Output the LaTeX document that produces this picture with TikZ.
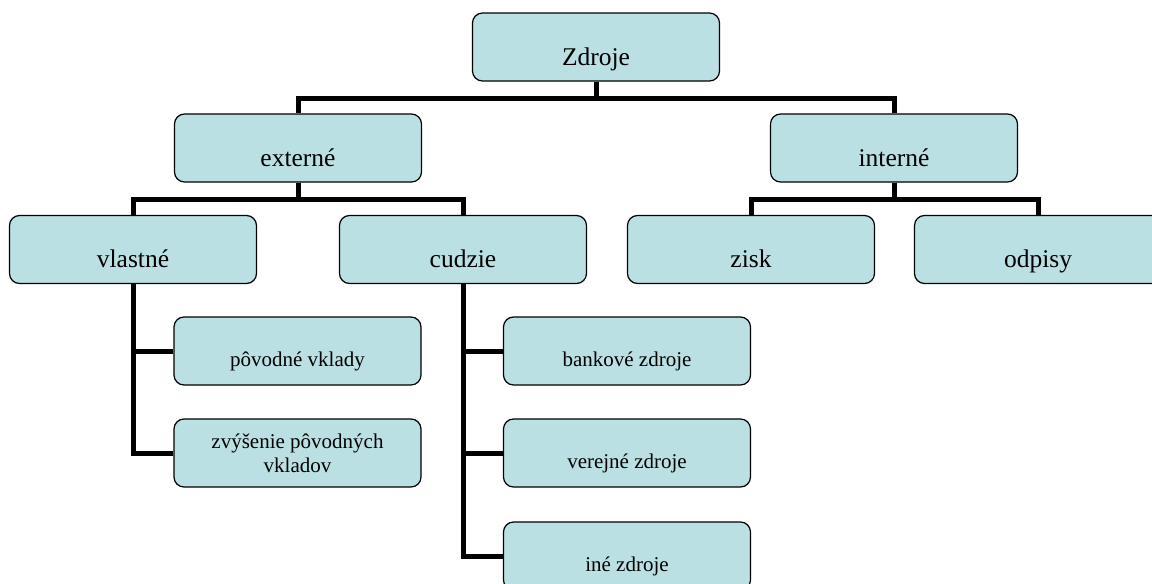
\documentclass[tikz,border=0pt]{standalone}
\usepackage{fontspec}
\setmainfont{Liberation Serif}
\definecolor{boxfill}{RGB}{187,224,227}

\begin{document}
\begin{tikzpicture}[x=1pt,y=-1pt,
box/.style={draw,fill=boxfill,line width=1.2pt,rounded corners=10pt,
minimum width=247pt,minimum height=68pt,inner sep=2pt},
big/.style={box,font=\fontsize{25.5}{30}\selectfont,
text height=40pt,text depth=4pt},
small/.style={box,font=\fontsize{21}{24}\selectfont,
text height=34pt,text depth=4pt},
conn/.style={line width=5pt}]

\useasboundingbox (0,0) rectangle (1152,584);
\clip (0,0) rectangle (1152,584);

% Zdroje
\node[big]
(Z)
at (596,47)
{Zdroje};

% externe / interne
\node[big] (Ext) at (298,148) {externé};
\node[big] (Int) at (894,148) {interné};

% druha uroven
\node[big] (Vl) at (133,249.5) {vlastné};
\node[big] (Cu) at (463,249.5) {cudzie};
\node[big] (Zi) at (751,249.5) {zisk};
\node[big] (Od) at (1038,249.5) {odpisy};

% vlastne zdroje
\node[small] (Pv) at (297.5,351) {pôvodné vklady};
\node[box,font=\fontsize{21}{24}\selectfont,align=center]
(Zv)
at (297.5,453)
{zvýšenie pôvodných\\vkladov};

% cudzie zdroje
\foreach \n/\y/\t in {
Ba/351/bankové zdroje,
Ve/453/verejné zdroje,
In/556/iné zdroje}
{
\node[small] (\n) at (627,\y) {\t};
}

% Spojnice
\draw[conn] (Z.south) -- ++(0,16.5) -| (Ext.north);
\draw[conn] (Z.south) -- ++(0,16.5) -| (Int.north);
\draw[conn] (Ext.south) -- ++(0,17) -| (Vl.north);
\draw[conn] (Ext.south) -- ++(0,17) -| (Cu.north);
\draw[conn] (Int.south) -- ++(0,17) -| (Zi.north);
\draw[conn] (Int.south) -- ++(0,17) -| (Od.north);

\foreach \n in {Pv,Zv}
{
\draw[conn] (Vl.south) |- (\n.west);
}
\foreach \n in {Ba,Ve,In}
{
\draw[conn] (Cu.south) |- (\n.west);
}

\end{tikzpicture}
\end{document}
